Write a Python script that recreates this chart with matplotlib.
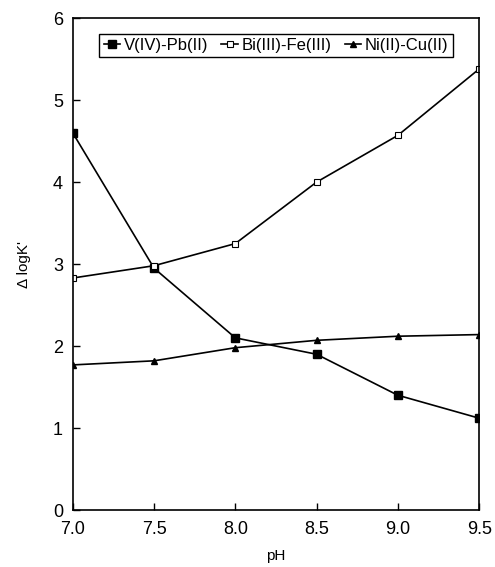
import matplotlib
matplotlib.use("Agg")
import matplotlib.pyplot as plt

plt.rcParams['font.family'] = ['Liberation Sans', 'DejaVu Sans']

ph = [7.0, 7.5, 8.0, 8.5, 9.0, 9.5]
v_pb = [4.6, 2.95, 2.1, 1.9, 1.4, 1.12]
bi_fe = [2.83, 2.98, 3.25, 4.0, 4.57, 5.38]
ni_cu = [1.77, 1.82, 1.98, 2.07, 2.12, 2.14]

fig = plt.figure(figsize=(4.95, 5.67), dpi=100)
ax = fig.add_axes([0.147, 0.1005, 0.821, 0.8675])

ax.plot(ph, v_pb, color='black', lw=1.2, marker='s', ms=5.5, mfc='black', label='V(IV)-Pb(II)')
ax.plot(ph, bi_fe, color='black', lw=1.2, marker='s', ms=5, mfc='white', mew=0.8, label='Bi(III)-Fe(III)')
ax.plot(ph, ni_cu, color='black', lw=1.2, marker='^', ms=5, mfc='black', label='Ni(II)-Cu(II)')

ax.set_xlim(7.0, 9.5)
ax.set_ylim(0, 6)
ax.set_xticks(ph)
ax.set_xticklabels(['7.0', '7.5', '8.0', '8.5', '9.0', '9.5'])
ax.set_yticks([0, 1, 2, 3, 4, 5, 6])
ax.tick_params(direction='in', length=5, width=1, labelsize=13)
ax.tick_params(axis='x', pad=8)
ax.tick_params(axis='y', pad=7)
ax.set_xlabel('pH', fontsize=11, labelpad=8)
ax.set_ylabel("\u0394 logK'", fontsize=11, labelpad=16)
for s in ax.spines.values():
    s.set_linewidth(1.2)

leg = ax.legend(loc='upper center', ncol=3, fontsize=12, handlelength=1.0,
                handletextpad=0.2, columnspacing=0.8, borderpad=0.25,
                fancybox=False, edgecolor='black', framealpha=1,
                bbox_to_anchor=(0.5, 0.985))
leg.get_frame().set_linewidth(1.0)

fig.savefig('out.png', dpi=100)
